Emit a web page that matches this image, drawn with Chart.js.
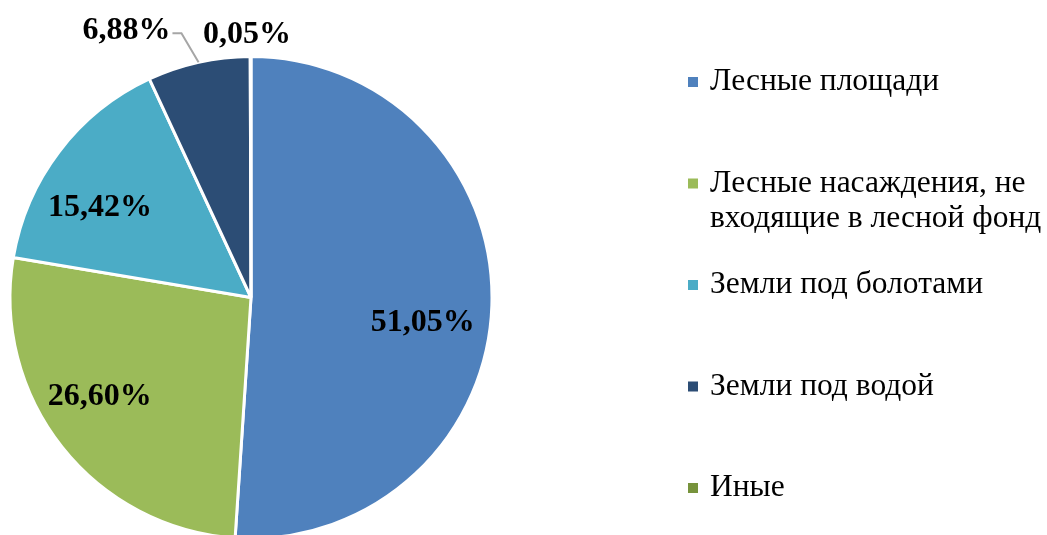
<!DOCTYPE html>
<html>
<head>
<meta charset="utf-8">
<script src="https://cdn.jsdelivr.net/npm/chart.js@4"></script>
<style>
  html, body { margin: 0; padding: 0; background: #fff; overflow: hidden; }
  #wrap { width: 1047px; height: 600px; position: relative; }
</style>
</head>
<body>
<div id="wrap"><canvas id="pieChart"></canvas></div>
<script>
// данные диаграммы
const categories = [
  'Лесные площади',
  'Лесные насаждения, не входящие в лесной фонд',
  'Земли под болотами',
  'Земли под водой',
  'Иные'
];
const legendLines = [
  ['Лесные площади'],
  ['Лесные насаждения, не', 'входящие в лесной фонд'],
  ['Земли под болотами'],
  ['Земли под водой'],
  ['Иные']
];
const shares = [51.05, 26.60, 15.42, 6.88, 0.05];
const valueLabels = ['51,05%', '26,60%', '15,42%', '6,88%', '0,05%'];
const sliceColors = ['#4F81BD', '#9BBB59', '#4BACC6', '#2C4D75', '#77933C'];

// положение подписей: доля радиуса и сдвиг угла (градусы)
const labelPlace = [
  { r: 0.72, da: 6.4 },
  { r: 0.75, da: 5.1 },
  { r: 0.73, da: -6.5 },
  { r: 1.22, da: -12.5, leader: true },
  { r: 1.09, da: -0.8 }
];

const labelsPlugin = {
  id: 'pieLabels',
  afterDraw(chart) {
    const ctx = chart.ctx;
    const arcs = chart.getDatasetMeta(0).data;
    ctx.save();
    ctx.font = 'bold 32px "Liberation Serif", "Times New Roman", serif';
    ctx.fillStyle = '#000';
    ctx.textAlign = 'center';
    ctx.textBaseline = 'middle';
    arcs.forEach((arc, i) => {
      const p = arc.getProps(['x', 'y', 'startAngle', 'endAngle', 'outerRadius'], true);
      const mid = (p.startAngle + p.endAngle) / 2;
      const a = mid + labelPlace[i].da * Math.PI / 180;
      const R = p.outerRadius;
      const lx = p.x + Math.cos(a) * R * labelPlace[i].r;
      const ly = p.y + Math.sin(a) * R * labelPlace[i].r;
      ctx.fillText(valueLabels[i], lx, ly);
      if (labelPlace[i].leader) {
        const w = ctx.measureText(valueLabels[i]).width;
        const ex = p.x + Math.cos(mid) * R;
        const ey = p.y + Math.sin(mid) * R;
        ctx.strokeStyle = '#A6A6A6';
        ctx.lineWidth = 2;
        ctx.beginPath();
        ctx.moveTo(lx + w / 2 + 2, ly + 2);
        ctx.lineTo(lx + w / 2 + 11, ly + 2);
        ctx.lineTo(ex, ey);
        ctx.stroke();
      }
    });

    // легенда
    ctx.font = '31.5px "Liberation Serif", "Times New Roman", serif';
    ctx.textAlign = 'left';
    const lx0 = 688, ty0 = 82, step = 101.5, lineH = 35;
    legendLines.forEach((lines, i) => {
      const y = ty0 + i * step;
      ctx.fillStyle = sliceColors[i];
      ctx.fillRect(lx0, y - 5, 10, 10);
      ctx.fillStyle = '#000';
      lines.forEach((t, j) => ctx.fillText(t, lx0 + 22, y + j * lineH));
    });
    ctx.restore();
  }
};

const ctx = document.getElementById('pieChart').getContext('2d');
new Chart(ctx, {
  type: 'pie',
  data: {
    labels: categories,
    datasets: [{
      data: shares,
      backgroundColor: sliceColors,
      borderColor: '#ffffff',
      borderWidth: 3
    }]
  },
  options: {
    responsive: true,
    maintainAspectRatio: false,
    animation: false,
    layout: {
      padding: { left: 8, top: 55, right: 553, bottom: 60 }
    },
    plugins: {
      legend: { display: false },
      tooltip: { enabled: false }
    }
  },
  plugins: [labelsPlugin]
});
</script>
</body>
</html>
